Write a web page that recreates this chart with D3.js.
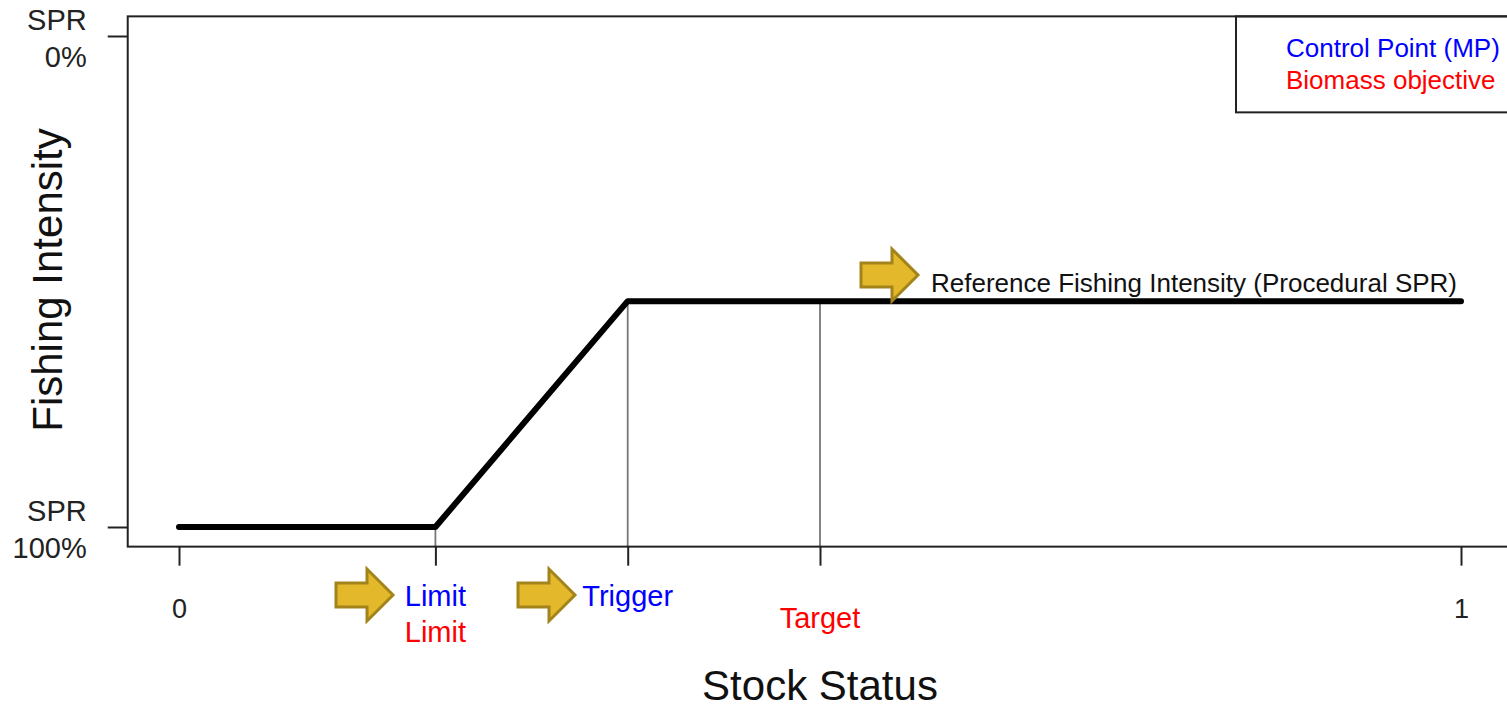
<!DOCTYPE html>
<html>
<head>
<meta charset="utf-8">
<script src="https://cdn.jsdelivr.net/npm/d3@7"></script>
<style>
  body { margin: 0; background: #fff; }
  text { font-family: "Liberation Sans", Arial, sans-serif; }
</style>
</head>
<body>
<div id="chart"></div>
<script>
// harvest control rule: stock status vs fishing intensity (0 = SPR 100%, 1 = SPR 0%)
var hcrStatus = [0, 0.2, 0.35, 1],
    hcrIntensity = [0, 0, 0.46, 0.46];

var refNames = ["Limit", "Trigger", "Target"],
    refStatus = [0.2, 0.35, 0.5];

var xTicks = [0, 0.2, 0.35, 0.5, 1],
    xTickLabels = ["0", "", "", "", "1"];
var yTicks = [0, 1],
    yTickLabels = [["SPR", "100%"], ["SPR", "0%"]];

var legendLabels = ["Control Point (MP)", "Biomass objective"],
    legendColors = ["blue", "red"];

var W = 1507, H = 708;
var svg = d3.select("#chart").append("svg")
    .attr("width", W).attr("height", H);

var x = d3.scaleLinear().domain([0, 1]).range([179, 1461]);
var y = d3.scaleLinear().domain([0, 1]).range([527, 36]);

var boxL = x(-0.04), boxT = y(1.04), boxB = y(-0.04);

// arrow helper, tip at (tx, ty)
function arrow(tx, ty) {
  var pts = [[-57, -12], [-26, -12], [-26, -26], [0, 0], [-26, 26], [-26, 12], [-57, 12]];
  svg.append("path")
    .attr("d", "M" + pts.map(function(p){ return (tx + p[0]) + "," + (ty + p[1]); }).join("L") + "Z")
    .attr("fill", "#e3b92b").attr("stroke", "#a3841b").attr("stroke-width", 3)
    .attr("stroke-linejoin", "miter");
}

// thin verticals from the curve down to the axis
var line = d3.line().x(function(d){ return x(d[0]); }).y(function(d){ return y(d[1]); });
var pts = hcrStatus.map(function(s, i){ return [s, hcrIntensity[i]]; });
var curveAt = function(s) {
  for (var i = 1; i < pts.length; i++) {
    if (s <= pts[i][0]) {
      var t = (s - pts[i-1][0]) / (pts[i][0] - pts[i-1][0]);
      return pts[i-1][1] + t * (pts[i][1] - pts[i-1][1]);
    }
  }
  return pts[pts.length-1][1];
};
svg.selectAll(".ref").data(refStatus).enter().append("line")
  .attr("x1", function(d){ return x(d); }).attr("x2", function(d){ return x(d); })
  .attr("y1", function(d){ return y(curveAt(d)); }).attr("y2", boxB)
  .attr("stroke", "#777").attr("stroke-width", 1.8);

svg.append("path").datum(pts)
  .attr("d", line).attr("fill", "none")
  .attr("stroke", "#000").attr("stroke-width", 6)
  .attr("stroke-linecap", "round").attr("stroke-linejoin", "round");

// plot box
svg.append("rect")
  .attr("x", boxL).attr("y", boxT).attr("width", W + 20 - boxL).attr("height", boxB - boxT)
  .attr("fill", "none").attr("stroke", "#222").attr("stroke-width", 2);

// legend box
svg.append("rect")
  .attr("x", 1236).attr("y", boxT).attr("width", 300).attr("height", 96)
  .attr("fill", "none").attr("stroke", "#222").attr("stroke-width", 2);
svg.selectAll(".leg").data(legendLabels).enter().append("text")
  .attr("x", 1286).attr("y", function(d, i){ return 57 + i * 32; })
  .attr("font-size", 26).attr("fill", function(d, i){ return legendColors[i]; })
  .text(function(d){ return d; });

// x axis
var xAxis = svg.append("g").attr("transform", "translate(0," + boxB + ")")
  .call(d3.axisBottom(x).tickValues(xTicks).tickSize(19)
    .tickFormat(function(d, i){ return xTickLabels[i]; }));
xAxis.select(".domain").remove();
xAxis.selectAll(".tick line").attr("stroke", "#222").attr("stroke-width", 2);
xAxis.selectAll(".tick text").attr("font-size", 27).attr("fill", "#222")
  .attr("font-family", "Liberation Sans, Arial, sans-serif").attr("dy", 0).attr("y", 71);

// y axis
var yAxis = svg.append("g").attr("transform", "translate(" + boxL + ",0)")
  .call(d3.axisLeft(y).tickValues(yTicks).tickSize(20).tickFormat(""));
yAxis.select(".domain").remove();
yAxis.selectAll(".tick line").attr("stroke", "#222").attr("stroke-width", 2);
yAxis.selectAll(".tick").each(function(d, i){
  var t = d3.select(this).append("text")
    .attr("x", -41).attr("text-anchor", "end").attr("font-size", 29).attr("fill", "#222")
    .attr("font-family", "Liberation Sans, Arial, sans-serif");
  t.append("tspan").attr("x", -41).attr("y", -7).text(yTickLabels[i][0]);
  t.append("tspan").attr("x", -41).attr("y", 30).text(yTickLabels[i][1]);
});

// reference point labels under the axis
svg.append("text").attr("x", x(refStatus[0])).attr("y", 606).attr("text-anchor", "middle")
  .attr("font-size", 29).attr("fill", "blue").text(refNames[0]);
svg.append("text").attr("x", x(refStatus[0])).attr("y", 642).attr("text-anchor", "middle")
  .attr("font-size", 29).attr("fill", "red").text(refNames[0]);
svg.append("text").attr("x", x(refStatus[1])).attr("y", 606).attr("text-anchor", "middle")
  .attr("font-size", 29).attr("fill", "blue").text(refNames[1]);
svg.append("text").attr("x", x(refStatus[2])).attr("y", 628).attr("text-anchor", "middle")
  .attr("font-size", 29).attr("fill", "red").text(refNames[2]);

arrow(393, 595);
arrow(575, 595);
arrow(918, 275);

svg.append("text").attr("x", 931).attr("y", 292).attr("font-size", 26).attr("fill", "#111")
  .text("Reference Fishing Intensity (Procedural SPR)");

// axis titles
svg.append("text").attr("x", 820).attr("y", 700).attr("text-anchor", "middle")
  .attr("font-size", 42).attr("fill", "#111").text("Stock Status");
svg.append("text").attr("transform", "translate(62,280) rotate(-90)").attr("text-anchor", "middle")
  .attr("font-size", 42).attr("fill", "#111").text("Fishing Intensity");
</script>
</body>
</html>
